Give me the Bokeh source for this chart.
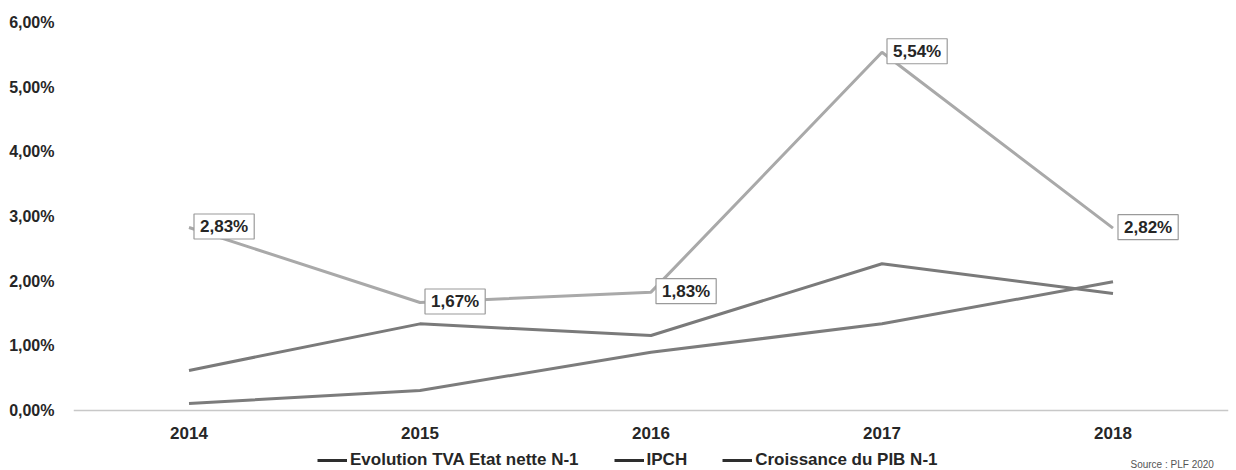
from bokeh.plotting import figure
from bokeh.models import (ColumnDataSource, FactorRange, Label, Legend, LegendItem,
                          CustomJSTickFormatter, FixedTicker)
from bokeh.embed import file_html
from bokeh.resources import INLINE

# Annual rates, in percent
years = ["2014", "2015", "2016", "2017", "2018"]
tva_nette = [2.83, 1.67, 1.83, 5.54, 2.82]   # Evolution TVA Etat nette N-1
ipch = [0.11, 0.31, 0.90, 1.34, 1.99]        # IPCH
pib = [0.62, 1.34, 1.16, 2.27, 1.81]         # Croissance du PIB N-1
series_names = ["Evolution TVA Etat nette N-1", "IPCH", "Croissance du PIB N-1"]
y_ticks = [0, 1, 2, 3, 4, 5, 6]

FONT = "Liberation Sans"
INK = "#262626"

# the frame runs down to the canvas edge so the legend row sits inside it;
# 388 px span 0..6 %, and the 60 px under the zero line hold axis labels and legend
PX_PER_UNIT = 388 / 6
y_floor = -60 / PX_PER_UNIT

p = figure(width=1236, height=470, x_range=FactorRange(*years), y_range=(y_floor, 6),
           output_backend="svg", toolbar_location=None,
           min_border_left=73, min_border_right=8, min_border_top=22, min_border_bottom=0)
p.outline_line_color = None
p.background_fill_color = "white"
p.border_fill_color = "white"
p.grid.visible = False

src = ColumnDataSource(dict(year=years, tva=tva_nette, ipch=ipch, pib=pib))
p.line("year", "tva", source=src, line_color="#a9a9a9", line_width=3)
p.line("year", "ipch", source=src, line_color="#7c7c7c", line_width=3)
p.line("year", "pib", source=src, line_color="#7a7a7a", line_width=3)

# value boxes on the TVA series (factor i sits at synthetic coordinate i + 0.5)
for i, v in enumerate(tva_nette):
    p.add_layout(Label(x=i + 0.5, y=v, text=f"{v:.2f}".replace(".", ",") + "%",
                       x_offset=5, y_offset=1, text_align="left", text_baseline="middle",
                       text_font=FONT, text_font_size="17px", text_font_style="bold",
                       text_color=INK, background_fill_color="white",
                       border_line_color="#9a9a9a", border_line_width=1.2, padding=(6, 3)))

# axes
p.yaxis.ticker = FixedTicker(ticks=y_ticks)
p.yaxis.formatter = CustomJSTickFormatter(
    code="return tick.toFixed(2).replace('.', ',') + '%';")
p.yaxis.axis_line_color = None
p.yaxis.major_tick_line_color = None
p.yaxis.minor_tick_line_color = None
p.yaxis.major_label_standoff = 13
p.yaxis.major_label_text_font = FONT
p.yaxis.major_label_text_font_size = "16px"
p.yaxis.major_label_text_font_style = "bold"
p.yaxis.major_label_text_color = INK

p.xaxis.fixed_location = 0
p.xaxis.axis_line_color = "#c8c8c8"
p.xaxis.axis_line_width = 1.5
p.xaxis.major_tick_line_color = None
p.xaxis.minor_tick_line_color = None
p.xaxis.major_label_standoff = 10
p.xaxis.major_label_text_font = FONT
p.xaxis.major_label_text_font_size = "17px"
p.xaxis.major_label_text_font_style = "bold"
p.xaxis.major_label_text_color = INK

# legend swatches are dark; each swatch renderer holds a single point, so it draws no line
swatches = [p.line(x=years[:1], y=vals[:1], line_color="#2e2e2e", line_width=3)
            for vals in (tva_nette, ipch, pib)]
legend = Legend(items=[LegendItem(label=n, renderers=[r]) for n, r in zip(series_names, swatches)],
                orientation="horizontal", location=(244, 0),
                glyph_width=30, glyph_height=20, label_height=20, label_standoff=3, spacing=35,
                padding=0, margin=0, border_line_color=None, background_fill_alpha=0,
                label_text_font=FONT, label_text_font_size="17px",
                label_text_font_style="bold", label_text_color=INK)
p.add_layout(legend, "center")

p.add_layout(Label(x=1057, y=1, x_units="screen", y_units="screen",
                   text="Source : PLF 2020", text_align="left", text_baseline="bottom",
                   text_font=FONT, text_font_size="10px", text_color="#555555"))

open("out.html", "w").write(file_html(p, INLINE))
